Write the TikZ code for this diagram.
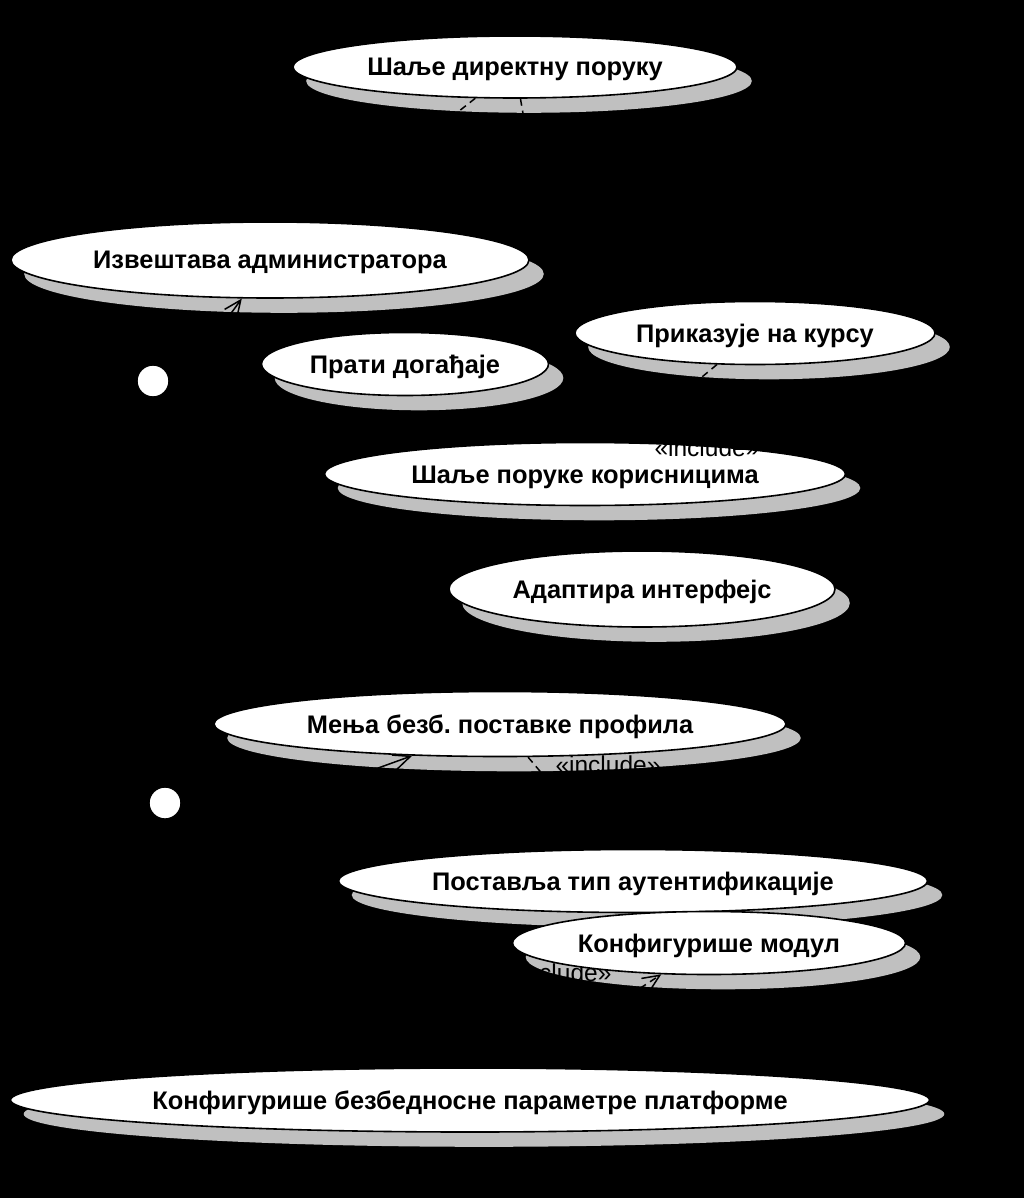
\documentclass[tikz,border=0pt]{standalone}
\usepackage{fontspec}
\setmainfont{Liberation Sans}
\usetikzlibrary{arrows.meta,shapes.geometric,calc}
\definecolor{ucShadow}{RGB}{192,192,192}
\definecolor{ucInk}{RGB}{0,0,0}
\pgfdeclarelayer{backdrop}
\pgfdeclarelayer{shadows}
\pgfdeclarelayer{links}
\pgfdeclarelayer{labels}
\pgfsetlayers{backdrop,shadows,links,main,labels}
\frenchspacing

\begin{document}
\begin{tikzpicture}[x=1pt, y=-1pt,
    usecase/.style={draw=ucInk, ellipse, fill=white, line width=1.6pt, inner sep=0pt,
      minimum height=63pt, text height=18pt, text depth=0pt,
      font=\fontsize{25.4}{29}\selectfont\bfseries},
    actorhead/.style={draw=ucInk, circle, fill=white, line width=1.4pt,
      minimum size=32pt, inner sep=0pt},
    assoc/.style={-{Straight Barb[length=17pt, width=15pt]}, line width=1.5pt, color=ucInk},
    incl/.style={assoc, dash pattern=on 7pt off 5pt},
    stereo/.style={font=\fontsize{24.5}{28}\selectfont, inner sep=0pt, anchor=base, text=ucInk}
  ]
  \begin{pgfonlayer}{backdrop}
    \fill[black] (0,0) rectangle (1024,1198);
  \end{pgfonlayer}
  \useasboundingbox (0,0) rectangle (1024,1198);

  \node[usecase, minimum width=444pt, minimum height=62pt] (direct) at (515,67) {Шаље директну поруку};
  \node[usecase, minimum width=518pt, minimum height=76pt] (report) at (270,260) {Извештава администратора};
  \node[usecase, minimum width=287pt] (events) at (405,364) {Прати догађаје};
  \node[usecase, minimum width=360pt] (course) at (755,333) {Приказује на курсу};
  \node[usecase, minimum width=521pt] (users) at (585,474) {Шаље поруке корисницима};
  \node[usecase, minimum width=386pt, minimum height=76pt] (adapt) at (642,589) {Адаптира интерфејс};
  \node[usecase, minimum width=572pt, minimum height=65pt] (profile) at (500,724) {Мења безб. поставке профила};
  \node[usecase, minimum width=589pt] (authtype) at (633,881) {Поставља тип аутентификације};
  \node[usecase, minimum width=393pt] (module) at (709,943) {Конфигурише модул};
  \node[usecase, minimum width=919pt, minimum height=64pt] (platform) at (470,1100) {Конфигурише безбедносне параметре платформе};

  \node[actorhead] (sysactor) at (153,381) {};
  \node[actorhead] (adminactor) at (165,803) {};
  \coordinate (sysbody) at (153,420);
  \coordinate (adminbody) at (165,845);

  % shadows under every use case
  \begin{pgfonlayer}{shadows}
    \foreach \uc in {direct,report,events,course,users,adapt,profile,authtype,module,platform}
      \fill[ucShadow] let \p1=(\uc.center), \p2=(\uc.east), \p3=(\uc.north) in
        (\x1+14pt,\y1-14pt) ellipse [x radius=\x2-\x1, y radius=\y3-\y1];
  \end{pgfonlayer}

  \begin{pgfonlayer}{links}
    \draw[assoc] (sysbody) -- (report);
    \draw[assoc] (adminbody) -- (profile);
    \draw[incl] (direct) -- (report);
    \draw[incl] (direct) -- (users);
    \draw[incl] (course) -- (users);
    \draw[incl] (profile) -- (authtype);
    \draw[incl] (platform) -- (module);
    \node[stereo] (inclModule) at (559,981) {«include»};
  \end{pgfonlayer}

  \begin{pgfonlayer}{labels}
    \node[stereo] (inclCourse) at (707,456) {«include»};
    \node[stereo] (inclAuth) at (608,773) {«include»};
  \end{pgfonlayer}
\end{tikzpicture}
\end{document}
